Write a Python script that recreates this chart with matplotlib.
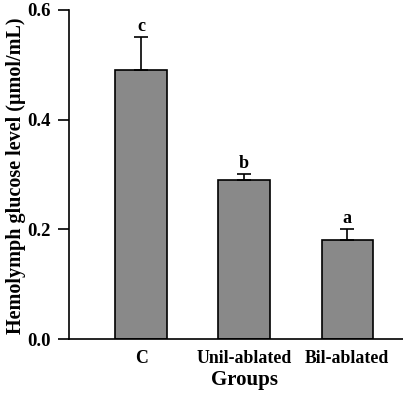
import matplotlib
matplotlib.use("Agg")
import matplotlib.pyplot as plt

groups = ["C", "Unil-ablated", "Bil-ablated"]
means = [0.49, 0.29, 0.18]
errors = [0.06, 0.01, 0.02]
letters = ["c", "b", "a"]
yticks = [0.0, 0.2, 0.4, 0.6]

plt.rcParams['font.family'] = ['Liberation Serif', 'DejaVu Serif']
plt.rcParams['font.weight'] = 'bold'

fig = plt.figure(figsize=(4.03, 3.93), dpi=100)
ax = fig.add_axes([0.171, 0.137, 0.829, 0.838])

x = list(range(len(groups)))
ax.bar(x, means, width=0.5, color="#898989", edgecolor="black", linewidth=1.2, zorder=2)
ax.errorbar(x, means, yerr=[[0]*len(errors), errors], fmt="none", ecolor="black",
            elinewidth=1.2, capsize=5, capthick=1.2, zorder=3)
for xi, m, e, l in zip(x, means, errors, letters):
    ax.text(xi, m + e + 0.004, l, ha="center", va="bottom", fontsize=13, fontweight="bold")

ax.set_xlim(-0.70, 2.54)
ax.set_ylim(0, 0.6)
ax.set_yticks(yticks)
ax.set_yticklabels([f"{v:.1f}" for v in yticks], fontsize=13.5, fontweight="bold")
ax.set_xticks(x)
ax.set_xticklabels(groups, fontsize=12.8, fontweight="bold")
ax.tick_params(axis="x", length=0, pad=8)
ax.tick_params(axis="y", direction="out", length=8, width=1.2, pad=5)
for s in ["top", "right"]:
    ax.spines[s].set_visible(False)
ax.spines["left"].set_linewidth(1.2)
ax.spines["bottom"].set_linewidth(1.2)
ax.set_xlabel("Groups", fontsize=15, fontweight="bold")
ax.xaxis.set_label_coords(0.527, -0.095)
ax.set_ylabel("Hemolymph glucose level (μmol/mL)", fontsize=14.5, fontweight="bold")
ax.yaxis.set_label_coords(-0.128, 0.497)

fig.savefig("out.png", dpi=100)
